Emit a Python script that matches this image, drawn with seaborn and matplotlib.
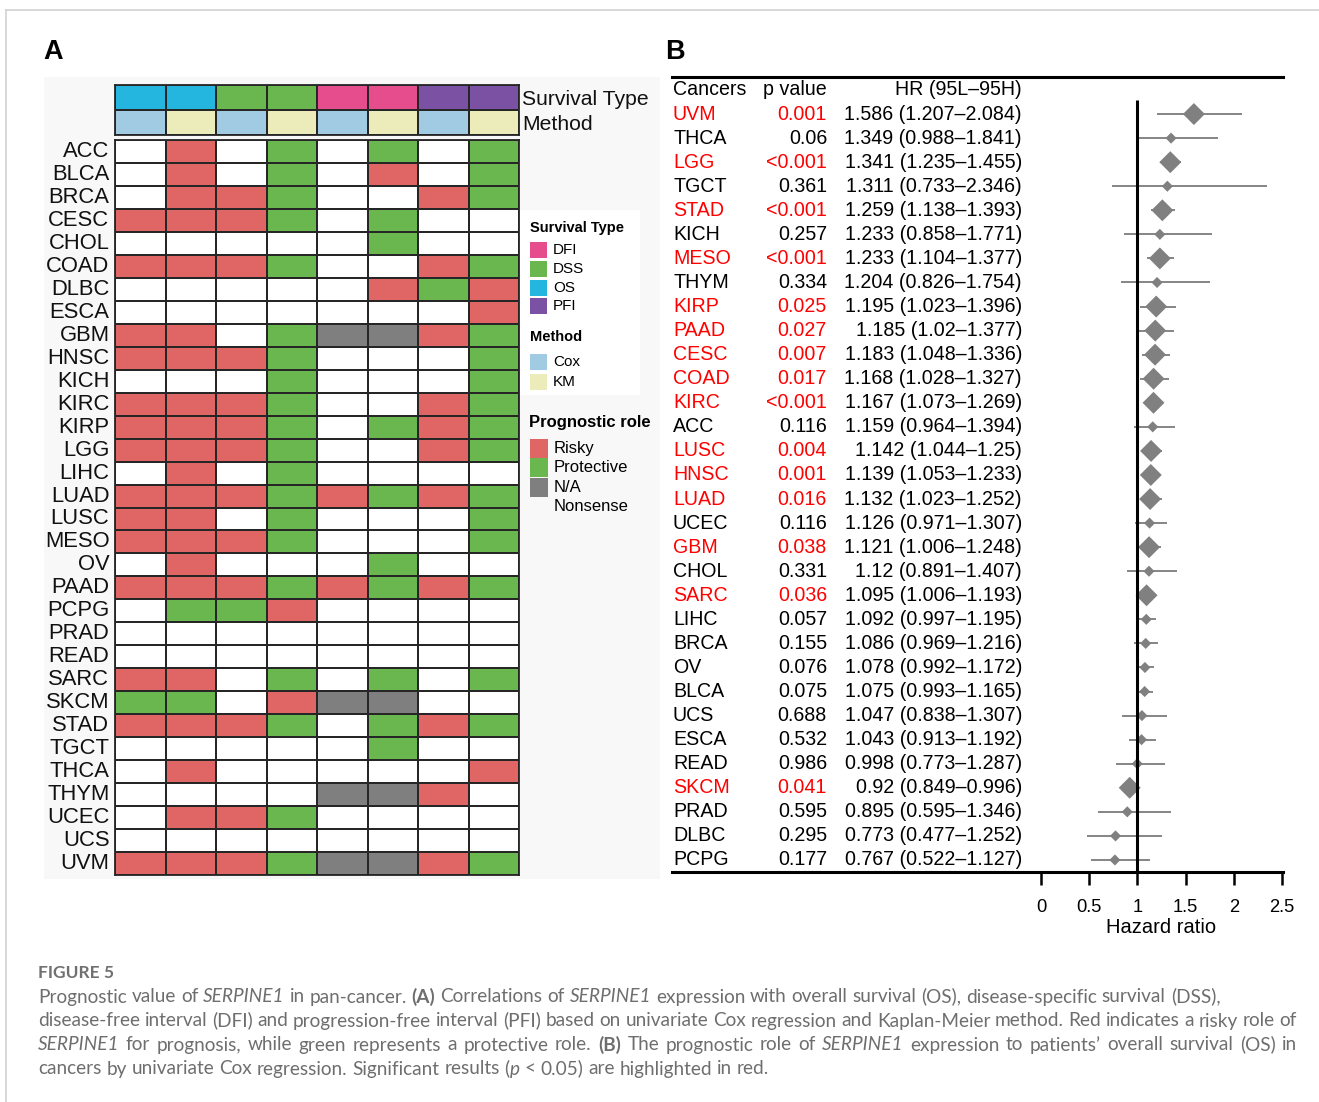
import re
import numpy as np
import pandas as pd
import seaborn as sns
import matplotlib
import matplotlib.pyplot as plt
from matplotlib.colors import ListedColormap
from matplotlib.patches import Rectangle
from matplotlib.lines import Line2D
from matplotlib.transforms import blended_transform_factory
from matplotlib import font_manager

plt.rcParams["font.family"] = ["Liberation Sans", "DejaVu Sans"]

# ---------------- panel A data ----------------
cancers_a = ["ACC", "BLCA", "BRCA", "CESC", "CHOL", "COAD", "DLBC", "ESCA", "GBM", "HNSC", "KICH",
             "KIRC", "KIRP", "LGG", "LIHC", "LUAD", "LUSC", "MESO", "OV", "PAAD", "PCPG", "PRAD",
             "READ", "SARC", "SKCM", "STAD", "TGCT", "THCA", "THYM", "UCEC", "UCS", "UVM"]
survival = ["OS", "OS", "DSS", "DSS", "DFI", "DFI", "PFI", "PFI"]
method = ["Cox", "KM", "Cox", "KM", "Cox", "KM", "Cox", "KM"]
# R = risky, G = protective, N = N/A, - = nonsense
roles = ["-R-G-G-G", "-R-G-R-G", "-RRG--RG", "RRRG-G--", "-----G--", "RRRG--RG", "-----RGR",
         "-------R", "RR-GNNRG", "RRRG---G", "---G---G", "RRRG--RG", "RRRG-GRG", "RRRG--RG",
         "-R-G----", "RRRGRGRG", "RR-G---G", "RRRG---G", "-R---G--", "RRRGRGRG", "-GGR----",
         "--------", "--------", "RR-G-G-G", "GG-RNN--", "RRRG-GRG", "-----G--", "-R-----R",
         "----NNR-", "-RRG----", "--------", "RRRGNNRG"]

# ---------------- panel B data ----------------
cancers_b = ["UVM", "THCA", "LGG", "TGCT", "STAD", "KICH", "MESO", "THYM", "KIRP", "PAAD", "CESC",
             "COAD", "KIRC", "ACC", "LUSC", "HNSC", "LUAD", "UCEC", "GBM", "CHOL", "SARC", "LIHC",
             "BRCA", "OV", "BLCA", "UCS", "ESCA", "READ", "SKCM", "PRAD", "DLBC", "PCPG"]
p_values = ["0.001", "0.06", "<0.001", "0.361", "<0.001", "0.257", "<0.001", "0.334", "0.025",
            "0.027", "0.007", "0.017", "<0.001", "0.116", "0.004", "0.001", "0.016", "0.116",
            "0.038", "0.331", "0.036", "0.057", "0.155", "0.076", "0.075", "0.688", "0.532",
            "0.986", "0.041", "0.595", "0.295", "0.177"]
hr = [1.586, 1.349, 1.341, 1.311, 1.259, 1.233, 1.233, 1.204, 1.195, 1.185, 1.183, 1.168, 1.167,
      1.159, 1.142, 1.139, 1.132, 1.126, 1.121, 1.12, 1.095, 1.092, 1.086, 1.078, 1.075, 1.047,
      1.043, 0.998, 0.92, 0.895, 0.773, 0.767]
hr_low = [1.207, 0.988, 1.235, 0.733, 1.138, 0.858, 1.104, 0.826, 1.023, 1.02, 1.048, 1.028, 1.073,
          0.964, 1.044, 1.053, 1.023, 0.971, 1.006, 0.891, 1.006, 0.997, 0.969, 0.992, 0.993, 0.838,
          0.913, 0.773, 0.849, 0.595, 0.477, 0.522]
hr_high = [2.084, 1.841, 1.455, 2.346, 1.393, 1.771, 1.377, 1.754, 1.396, 1.377, 1.336, 1.327, 1.269,
           1.394, 1.25, 1.233, 1.252, 1.307, 1.248, 1.407, 1.193, 1.195, 1.216, 1.172, 1.165, 1.307,
           1.192, 1.287, 0.996, 1.346, 1.252, 1.127]
hr_ticks = [0, 0.5, 1, 1.5, 2, 2.5]

caption_lines = [
    "Prognostic value of *SERPINE1* in pan-cancer. **(A)** Correlations of *SERPINE1* expression with overall survival (OS), disease-specific survival (DSS),",
    "disease-free interval (DFI) and progression-free interval (PFI) based on univariate Cox regression and Kaplan-Meier method. Red indicates a risky role of",
    "*SERPINE1* for prognosis, while green represents a protective role. **(B)** The prognostic role of *SERPINE1* expression to patients\u2019 overall survival (OS) in",
    "cancers by univariate Cox regression. Significant results (*p* < 0.05) are highlighted in red.",
]

# colours
RED = "#e06666"
GREEN = "#6ab750"
GREY = "#7f7f7f"
PINK = "#e64d8c"
CYAN = "#25b6e0"
PURPLE = "#7b52a3"
LBLUE = "#a0cbe2"
LYELLOW = "#ececba"
LINE = "#262626"

W, H = 1319, 1102
fig = plt.figure(figsize=(W / 100, H / 100), dpi=100)


def px_axes(x0, y0, x1, y1, **kw):
    return fig.add_axes([x0 / W, 1 - y1 / H, (x1 - x0) / W, (y1 - y0) / H], **kw)


# pixel overlay for background, legend and caption
ov = fig.add_axes([0, 0, 1, 1], zorder=-1)
ov.set_xlim(0, W)
ov.set_ylim(H, 0)
ov.axis("off")
ov.add_line(Line2D([6, 6], [10, H], color="#d2d2d2", lw=1.2))
ov.add_line(Line2D([6, W], [10, 10], color="#d2d2d2", lw=1.2))
ov.add_patch(Rectangle((44, 77), 616, 802, color="#f8f8f8", lw=0))
ov.add_patch(Rectangle((518, 210), 122, 185, color="white", lw=0))
ov.text(43, 52, "A", fontsize=19.5, fontweight="bold", va="center", ha="left")
ov.text(665, 52, "B", fontsize=19.5, fontweight="bold", va="center", ha="left")

# ---------------- panel A heatmap ----------------
role_code = {"-": 0, "R": 1, "G": 2, "N": 3}
mat = pd.DataFrame([[role_code[c] for c in r] for r in roles], index=cancers_a)

ax_hm = px_axes(115, 140, 519, 875, facecolor="none")
sns.heatmap(mat, cmap=ListedColormap(["white", RED, GREEN, GREY]), vmin=-0.5, vmax=3.5,
            cbar=False, linewidths=1.1, linecolor=LINE, xticklabels=False,
            yticklabels=cancers_a, ax=ax_hm)
ax_hm.set_yticklabels(cancers_a, rotation=0, fontsize=15.8, color="#111111")
ax_hm.tick_params(axis="y", length=0, pad=4)
ax_hm.set_xlabel("")
ax_hm.set_ylabel("")
for s in ax_hm.spines.values():
    s.set_visible(True)
    s.set_linewidth(1.3)
    s.set_color(LINE)

hdr_levels = ["DFI", "DSS", "OS", "PFI", "Cox", "KM"]
hdr = pd.DataFrame([[hdr_levels.index(s) for s in survival],
                    [hdr_levels.index(m) for m in method]],
                   index=["Survival Type", "Method"])
ax_hd = px_axes(115, 85, 519, 135, facecolor="none")
sns.heatmap(hdr, cmap=ListedColormap([PINK, GREEN, CYAN, PURPLE, LBLUE, LYELLOW]),
            vmin=-0.5, vmax=5.5, cbar=False, linewidths=1.1, linecolor=LINE,
            xticklabels=False, ax=ax_hd)
ax_hd.yaxis.tick_right()
ax_hd.set_yticklabels(["Survival Type", "Method"], rotation=0, fontsize=15.2, color="#111111")
ax_hd.tick_params(axis="y", length=0, pad=2)
ax_hd.set_xlabel("")
ax_hd.set_ylabel("")
for s in ax_hd.spines.values():
    s.set_visible(True)
    s.set_linewidth(1.3)
    s.set_color(LINE)

# legend (drawn by hand in pixel space)
ov.text(530, 228, "Survival Type", fontsize=10.5, fontweight="bold", va="center")
for i, (lab, col) in enumerate(zip(["DFI", "DSS", "OS", "PFI"], [PINK, GREEN, CYAN, PURPLE])):
    yc = 250 + i * 18.8
    ov.add_patch(Rectangle((530, yc - 8), 17, 16, color=col, lw=0))
    ov.text(553, yc, lab, fontsize=11, va="center")
ov.text(530, 337, "Method", fontsize=10.5, fontweight="bold", va="center")
for i, (lab, col) in enumerate(zip(["Cox", "KM"], [LBLUE, LYELLOW])):
    yc = 362 + i * 20
    ov.add_patch(Rectangle((530, yc - 8), 17, 16, color=col, lw=0))
    ov.text(553, yc, lab, fontsize=11, va="center")
ov.text(529, 423, "Prognostic role", fontsize=12, fontweight="bold", va="center")
for i, (lab, col) in enumerate(zip(["Risky", "Protective", "N/A", "Nonsense"],
                                   [RED, GREEN, GREY, "none"])):
    yc = 448 + i * 19.6
    ov.add_patch(Rectangle((530, yc - 9.5), 18, 19, color=col, lw=0))
    ov.text(554, yc, lab, fontsize=12, va="center")

# ---------------- panel B forest ----------------
names = {f.name for f in font_manager.fontManager.ttflist}
if "Liberation Sans Narrow" in names:
    NARROW, nscale = "Liberation Sans Narrow", 1.0
else:
    NARROW, nscale = "Liberation Sans", 0.83

n = len(cancers_b)
rows = np.arange(n)
sig = [p.startswith("<") or float(p) < 0.05 for p in p_values]
df_b = pd.DataFrame({"hr": hr, "row": rows, "sig": ["yes" if s else "no" for s in sig]})

ax_f = px_axes(672, 77, 1283, 872, facecolor="none")
unit = (1282 - 1041) / 2.5
ax_f.hlines(rows, hr_low, hr_high, color="#858585", lw=1.4, zorder=2)
sns.scatterplot(data=df_b, x="hr", y="row", size="sig", sizes={"yes": 125, "no": 32},
                marker="D", color="#808080", edgecolor="none", legend=False, zorder=3, ax=ax_f)
ax_f.set_xlim((672 - 1041) / unit, (1283 - 1041) / unit)
ax_f.set_ylim(31.5, -1.54)
ax_f.vlines(1, -0.58, 31.5, color="black", lw=2.2, zorder=4)
for side in ["left", "right"]:
    ax_f.spines[side].set_visible(False)
for side in ["top", "bottom"]:
    ax_f.spines[side].set_linewidth(2.2)
ax_f.set_yticks([])
ax_f.set_xticks(hr_ticks)
ax_f.set_xticklabels([f"{t:g}" for t in hr_ticks], fontsize=16 * nscale, family=NARROW)
ax_f.tick_params(axis="x", direction="out", length=9.5, width=1.8, pad=10)
ax_f.set_xlabel("Hazard ratio", fontsize=17.5 * nscale, family=NARROW)
ax_f.xaxis.set_label_coords((1161 - 672) / 611, (872 - 918) / 795)
ax_f.set_ylabel("")

tr = blended_transform_factory(ax_f.transAxes, ax_f.transData)
x_name = (673 - 672) / 611
x_p = (827 - 672) / 611
x_hr = (1022 - 672) / 611
fs = 17 * nscale
ax_f.text(x_name, -1, "Cancers", transform=tr, fontsize=fs, family=NARROW, va="center", ha="left")
ax_f.text(x_p, -1, "p value", transform=tr, fontsize=fs, family=NARROW, va="center", ha="right")
ax_f.text(x_hr, -1, "HR (95L\u201395H)", transform=tr, fontsize=fs, family=NARROW, va="center", ha="right")
for i in range(n):
    col = "#ff0000" if sig[i] else "black"
    ax_f.text(x_name, i, cancers_b[i], transform=tr, fontsize=fs, family=NARROW,
              va="center", ha="left", color=col)
    ax_f.text(x_p, i, p_values[i], transform=tr, fontsize=fs, family=NARROW,
              va="center", ha="right", color=col)
    ax_f.text(x_hr, i, f"{hr[i]} ({hr_low[i]}\u2013{hr_high[i]})", transform=tr, fontsize=fs,
              family=NARROW, va="center", ha="right", color="black")

# ---------------- caption ----------------
CAP_FONT = ["Lato", "DejaVu Sans"]
CAP_COL = "#6e6e6e"
CAP_FS = 13.7
renderer = fig.canvas.get_renderer()


def parse_words(line):
    words, cur = [], []
    for piece in re.split(r"(\*\*.*?\*\*|\*.*?\*)", line):
        if not piece:
            continue
        if piece.startswith("**"):
            style, txt = "bold", piece[2:-2]
        elif piece.startswith("*"):
            style, txt = "italic", piece[1:-1]
        else:
            style, txt = "normal", piece
        parts = txt.split(" ")
        for k, part in enumerate(parts):
            if k > 0 and cur:
                words.append(cur)
                cur = []
            if part:
                cur.append((part, style))
    if cur:
        words.append(cur)
    return words


def cap_text(x, y, s, style="normal"):
    # y is the line centre; draw on a common baseline
    return ov.text(x, y + 5.5, s, fontsize=CAP_FS, family=CAP_FONT, color=CAP_COL, va="baseline",
                   fontweight="bold" if style == "bold" else "normal",
                   fontstyle="italic" if style == "italic" else "normal")


def width(t):
    return t.get_window_extent(renderer).width


def rich_line(x, y, line, right=None):
    measured = []
    for word in parse_words(line):
        pieces = [cap_text(0, y, s, st) for s, st in word]
        ws = [width(t) for t in pieces]
        measured.append((pieces, ws))
    a = cap_text(0, y, "x x")
    b = cap_text(0, y, "xx")
    space = width(a) - width(b)
    a.remove()
    b.remove()
    total = sum(sum(ws) for _, ws in measured)
    gap = space
    if right is not None and len(measured) > 1:
        gap = (right - x - total) / (len(measured) - 1)
    cx = x
    for pieces, ws in measured:
        for t, w in zip(pieces, ws):
            t.set_x(cx)
            cx += w
        cx += gap


ov.text(38, 973, "FIGURE 5", fontsize=12.5, family=CAP_FONT, fontweight="bold",
        color="#707070", va="center")
rich_line(38, 997, caption_lines[0])
rich_line(38, 1021, caption_lines[1], right=1297)
rich_line(38, 1045, caption_lines[2], right=1297)
rich_line(38, 1069, caption_lines[3])

fig.savefig("out.png", dpi=100)
